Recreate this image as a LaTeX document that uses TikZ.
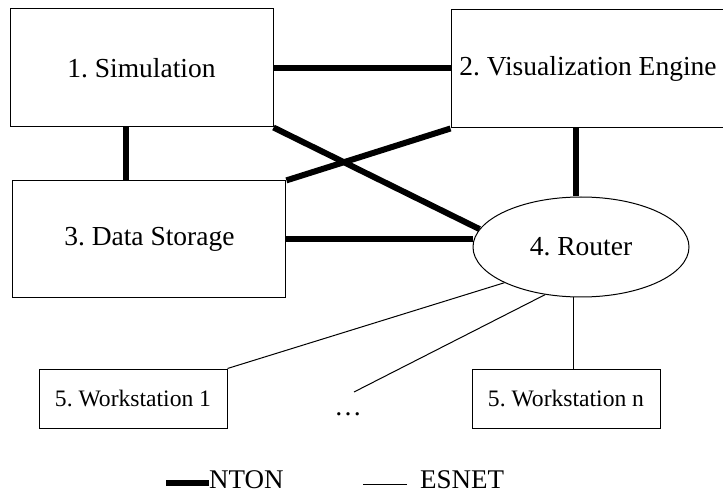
\documentclass[tikz,border=0pt]{standalone}
\usepackage{fontspec}
\setmainfont{Liberation Serif}
\usepackage{tikz}
\usetikzlibrary{shapes.geometric, calc}
\frenchspacing
\tikzset{
  block/.style={rectangle, draw=black, line width=1pt, inner sep=0pt,
    font=\fontsize{27.5}{33}\selectfont},
  wsblock/.style={rectangle, draw=black, line width=1pt, inner sep=0pt,
    minimum width=188pt, minimum height=59pt, font=\fontsize{23.6}{28}\selectfont},
  hub/.style={ellipse, draw=black, line width=1pt, inner sep=0pt,
    minimum width=216pt, minimum height=100pt, font=\fontsize{27.5}{33}\selectfont},
  nton/.style={line width=6pt, color=black},
  esnet/.style={line width=1pt, color=black},
  legend/.style={inner sep=0pt, font=\fontsize{27}{32}\selectfont}
}

\begin{document}
\begin{tikzpicture}[x=1pt, y=-1pt]
  \useasboundingbox (0,0) rectangle (723,494);
  % ── Main systems ──
  \node[block, minimum width=263pt, minimum height=118pt] (sim) at (141.5,68) {1. Simulation};
  \node[block, minimum width=274pt, minimum height=118pt] (vis) at (588,69) {2. Visualization Engine};
  \node[block, minimum width=273pt, minimum height=117pt] (store) at (149.4,239.4) {3. Data Storage};
  \node[hub] (router) at (581,247) {4. Router};
  % ── Workstations ──
  \node[wsblock] (ws1) at (133,398.5) {5. Workstation 1};
  \node[wsblock] (wsn) at (566,398.5) {5. Workstation n};
  \node[inner sep=0pt, anchor=base, font=\fontsize{27.5}{33}\selectfont] (dots) at (348,415) {…};
  \coordinate (dotsend) at (354,392);
  % ── NTON links ──
  \draw[nton] (sim.east) -- (sim.east -| vis.west);
  \draw[nton] ($(sim.south west)!.44!(sim.south east)$) coordinate (simdrop) -- (simdrop |- store.north);
  \draw[nton] (sim.south east) -- (router.170);
  \draw[nton] (store.north east) -- (vis.south west);
  \draw[nton] ($(vis.south west)!.455!(vis.south east)$) coordinate (visdrop) -- (visdrop |- router.north);
  \draw[nton] (store.east) -- (store.east -| router.west);
  % ── ESNET links ──
  \draw[esnet] (router.205) -- (ws1.north east);
  \draw[esnet] (router.233) -- (dotsend);
  \draw[esnet] ($(wsn.north west)!.54!(wsn.north east)$) coordinate (wsup) -- (wsup |- router.south);
  % ── Legend ──
  \node[legend, anchor=base west] (ntonlab) at (209,488.5) {NTON};
  \node[legend, anchor=base west] (esnetlab) at (420,488.5) {ESNET};
  \draw[nton] ([yshift=-3pt]ntonlab.west) -- ++(-43,0);
  \draw[esnet] ([yshift=-5pt]esnetlab.west) ++(-13,0) -- ++(-44,0);
\end{tikzpicture}
\end{document}
